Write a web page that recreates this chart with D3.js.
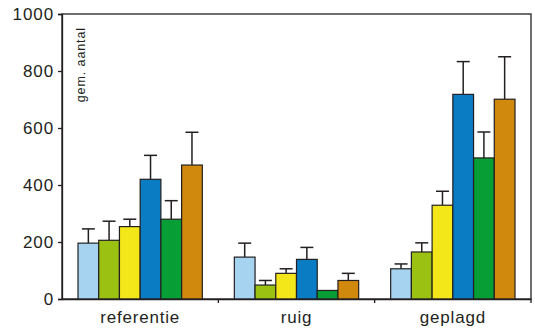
<!doctype html>
<html lang="nl">
    <head>
        <meta charset="utf-8">
        <title>gem. aantal</title>
        <style type="text/css">
            body{ margin:0; background:#fff; }
            svg text{ font-family: "Liberation Sans", Arial, Helvetica, sans-serif; fill:#231f20; }
            .axis path, .axis line{ stroke:#231f20; stroke-width:1.3px; }
        </style>
    </head>
    <body>
        <div id="vis"></div>
        <script src="https://d3js.org/d3.v7.min.js"></script>
        <script type="text/javascript">
            var groups = ['referentie', 'ruig', 'geplagd'];
            var colors = ['#a6d4f0', '#9bc113', '#f3e619', '#0a7cc4', '#069e35', '#d0880d'];
            var yTicks = [0, 200, 400, 600, 800, 1000];

            // gemiddelde per groep (6 staven per groep)
            var means = [
                [196, 206, 254, 420, 280, 470],
                [147, 49, 90, 139, 30, 65],
                [106, 165, 329, 718, 495, 701]
            ];
            // bovenkant foutbalk
            var upper = [
                [246, 273, 280, 504, 345, 585],
                [196, 65, 106, 181, 30, 90],
                [123, 197, 378, 833, 586, 850]
            ];

            var mLeft = 62, mTop = 14, mRight = 531, mBottom = 299;

            var svg = d3.select('#vis').append('svg').attr('width', 535).attr('height', 331);

            var y = d3.scaleLinear().domain([0, 1000]).range([mBottom, mTop]),
                x0 = d3.scaleBand().domain(groups).range([mLeft, mRight]).paddingInner(0).paddingOuter(0),
                x1 = d3.scaleBand().domain(d3.range(6)).range([16, x0.bandwidth() - 16]).padding(0);

            // frame
            svg.append('rect').attr('x', mLeft).attr('y', mTop).attr('width', mRight - mLeft).attr('height', mBottom - mTop)
                .style('fill', 'none').style('stroke', '#231f20').style('stroke-width', 1.3);

            var g = svg.selectAll('g.group').data(groups).enter().append('g')
                .attr('class', 'group')
                .attr('transform', function(d){ return 'translate(' + x0(d) + ',0)'; });

            g.each(function(gname, gi){
                var sel = d3.select(this);
                var rows = means[gi].map(function(v, i){ return {i: i, v: v, u: upper[gi][i]}; });

                rows.forEach(function(d){
                    if (d.u <= d.v) return;
                    var cx = x1(d.i) + x1.bandwidth() / 2;
                    sel.append('line').attr('x1', cx).attr('x2', cx).attr('y1', y(d.v)).attr('y2', y(d.u))
                        .style('stroke', '#231f20').style('stroke-width', 1.5);
                    sel.append('line').attr('x1', cx - 6.5).attr('x2', cx + 6.5).attr('y1', y(d.u)).attr('y2', y(d.u))
                        .style('stroke', '#231f20').style('stroke-width', 1.5);
                });

                sel.selectAll('rect').data(rows).enter().append('rect')
                    .attr('x', function(d){ return x1(d.i); })
                    .attr('y', function(d){ return y(d.v); })
                    .attr('width', x1.bandwidth())
                    .attr('height', function(d){ return mBottom - y(d.v); })
                    .style('fill', function(d){ return colors[d.i]; })
                    .style('stroke', '#231f20').style('stroke-width', 1.2);
            });

            var yAxis = svg.append('g').attr('class', 'axis').attr('transform', 'translate(' + mLeft + ',0)')
                .call(d3.axisLeft(y).tickValues(yTicks).tickSize(4).tickPadding(4).tickFormat(d3.format('d')));
            yAxis.selectAll('text').style('font-size', '17px').style('letter-spacing', '0.9px');

            var xAxis = svg.append('g').attr('class', 'axis').attr('transform', 'translate(0,' + mBottom + ')')
                .call(d3.axisBottom(x0).tickSize(0).tickPadding(12));
            xAxis.selectAll('text').style('font-size', '17px').style('letter-spacing', '0.8px').attr('dy', '0.71em');

            // ticks at group boundaries
            svg.append('g').selectAll('line').data(groups).enter().append('line')
                .attr('x1', function(d){ return x0(d) + x0.bandwidth(); })
                .attr('x2', function(d){ return x0(d) + x0.bandwidth(); })
                .attr('y1', mBottom).attr('y2', mBottom + 4)
                .style('stroke', '#231f20').style('stroke-width', 1.3);

            svg.append('text').attr('transform', 'translate(85,27) rotate(-90)')
                .style('text-anchor', 'end').style('font-size', '12.5px').style('letter-spacing', '0.9px')
                .text('gem. aantal');
        </script>
    </body>
</html>
